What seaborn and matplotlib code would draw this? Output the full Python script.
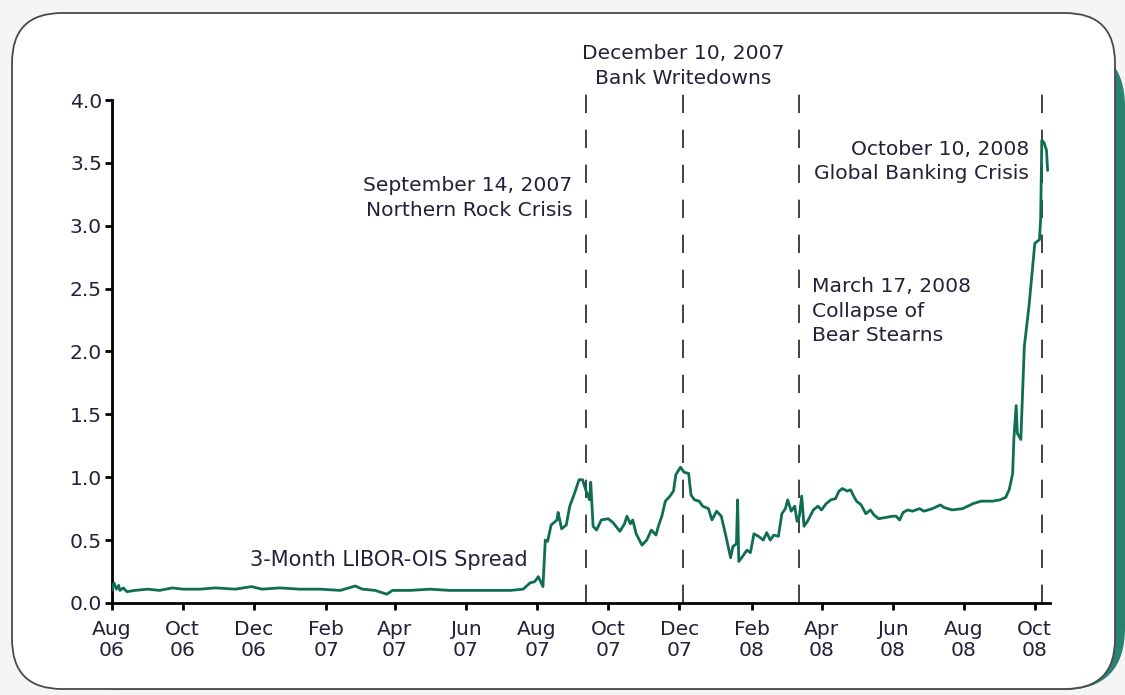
import pandas as pd
import matplotlib
matplotlib.use("Agg")
import matplotlib.pyplot as plt
from matplotlib.patches import FancyBboxPatch
from matplotlib.transforms import IdentityTransform
import seaborn as sns

# 3-month LIBOR-OIS spread (percentage points)
spread_dates = [
    "2006-08-01", "2006-08-03", "2006-08-05", "2006-08-07", "2006-08-08", "2006-08-11",
    "2006-08-14", "2006-08-21", "2006-09-01", "2006-09-11", "2006-09-22", "2006-10-01",
    "2006-10-16", "2006-10-29", "2006-11-15", "2006-11-29", "2006-12-08", "2006-12-23",
    "2007-01-09", "2007-01-27", "2007-02-13", "2007-02-26", "2007-03-04", "2007-03-15",
    "2007-03-25", "2007-03-30", "2007-04-14", "2007-05-01", "2007-05-18", "2007-06-04",
    "2007-06-21", "2007-07-09", "2007-07-20", "2007-07-26", "2007-07-30", "2007-08-02",
    "2007-08-06", "2007-08-08", "2007-08-10", "2007-08-13", "2007-08-18", "2007-08-19",
    "2007-08-22", "2007-08-26", "2007-08-29", "2007-09-02", "2007-09-06", "2007-09-09",
    "2007-09-12", "2007-09-15", "2007-09-16", "2007-09-18", "2007-09-21", "2007-09-25",
    "2007-10-01", "2007-10-05", "2007-10-11", "2007-10-15", "2007-10-17", "2007-10-20",
    "2007-10-22", "2007-10-25", "2007-10-30", "2007-11-03", "2007-11-07", "2007-11-11",
    "2007-11-13", "2007-11-16", "2007-11-19", "2007-11-23", "2007-11-26", "2007-11-28",
    "2007-12-02", "2007-12-05", "2007-12-09", "2007-12-11", "2007-12-14", "2007-12-18",
    "2007-12-21", "2007-12-26", "2007-12-29", "2008-01-02", "2008-01-06", "2008-01-10",
    "2008-01-14", "2008-01-16", "2008-01-19", "2008-01-20", "2008-01-21", "2008-01-25",
    "2008-01-28", "2008-01-31", "2008-02-03", "2008-02-07", "2008-02-11", "2008-02-14",
    "2008-02-17", "2008-02-20", "2008-02-24", "2008-02-27", "2008-03-01", "2008-03-03",
    "2008-03-06", "2008-03-09", "2008-03-11", "2008-03-13", "2008-03-15", "2008-03-17",
    "2008-03-20", "2008-03-25", "2008-03-29", "2008-04-01", "2008-04-05", "2008-04-09",
    "2008-04-13", "2008-04-16", "2008-04-19", "2008-04-23", "2008-04-26", "2008-04-28",
    "2008-05-01", "2008-05-05", "2008-05-09", "2008-05-13", "2008-05-16", "2008-05-20",
    "2008-05-26", "2008-06-01", "2008-06-04", "2008-06-07", "2008-06-10", "2008-06-14",
    "2008-06-18", "2008-06-24", "2008-06-28", "2008-07-05", "2008-07-12", "2008-07-15",
    "2008-07-22", "2008-07-31", "2008-08-09", "2008-08-16", "2008-08-26", "2008-09-01",
    "2008-09-06", "2008-09-09", "2008-09-12", "2008-09-13", "2008-09-15", "2008-09-16",
    "2008-09-19", "2008-09-22", "2008-09-26", "2008-10-01", "2008-10-05", "2008-10-06",
    "2008-10-07", "2008-10-09", "2008-10-11", "2008-10-12",
]
spread_values = [
    0.10, 0.16, 0.11, 0.14, 0.10, 0.12,
    0.09, 0.10, 0.11, 0.10, 0.12, 0.11,
    0.11, 0.12, 0.11, 0.13, 0.11, 0.12,
    0.11, 0.11, 0.10, 0.135, 0.11, 0.10,
    0.07, 0.10, 0.10, 0.11, 0.10, 0.10,
    0.10, 0.10, 0.11, 0.16, 0.17, 0.21,
    0.13, 0.50, 0.49, 0.62, 0.66, 0.72,
    0.59, 0.62, 0.77, 0.87, 0.98, 0.98,
    0.89, 0.82, 0.96, 0.61, 0.58, 0.66,
    0.67, 0.64, 0.57, 0.63, 0.69, 0.63,
    0.66, 0.55, 0.46, 0.50, 0.58, 0.54,
    0.61, 0.69, 0.81, 0.85, 0.89, 1.02,
    1.08, 1.04, 1.03, 0.86, 0.82, 0.81,
    0.77, 0.75, 0.66, 0.73, 0.69, 0.53,
    0.36, 0.45, 0.47, 0.82, 0.33, 0.38,
    0.42, 0.40, 0.55, 0.53, 0.50, 0.56,
    0.50, 0.54, 0.53, 0.71, 0.75, 0.82,
    0.73, 0.77, 0.65, 0.69, 0.85, 0.61,
    0.65, 0.74, 0.77, 0.74, 0.79, 0.82,
    0.83, 0.89, 0.91, 0.89, 0.90, 0.86,
    0.81, 0.78, 0.71, 0.74, 0.70, 0.67,
    0.68, 0.69, 0.69, 0.66, 0.72, 0.74,
    0.73, 0.75, 0.73, 0.75, 0.78, 0.76,
    0.74, 0.75, 0.79, 0.81, 0.81, 0.82,
    0.84, 0.90, 1.03, 1.30, 1.57, 1.35,
    1.30, 2.04, 2.36, 2.86, 2.89, 3.05,
    3.68, 3.66, 3.60, 3.44,
]

# event markers (where the dashed lines sit in the chart)
event_dates = ["2007-09-12", "2007-12-04", "2008-03-13", "2008-10-07"]
event_labels = [
    "September 14, 2007\nNorthern Rock Crisis",
    "December 10, 2007\nBank Writedowns",
    "March 17, 2008\nCollapse of\nBear Stearns",
    "October 10, 2008\nGlobal Banking Crisis",
]

tick_dates = ["2006-08-01", "2006-10-01", "2006-12-01", "2007-02-01", "2007-04-01",
              "2007-06-01", "2007-08-01", "2007-10-01", "2007-12-01", "2008-02-01",
              "2008-04-01", "2008-06-01", "2008-08-01", "2008-10-01"]
tick_labels = ["Aug\n06", "Oct\n06", "Dec\n06", "Feb\n07", "Apr\n07", "Jun\n07", "Aug\n07",
               "Oct\n07", "Dec\n07", "Feb\n08", "Apr\n08", "Jun\n08", "Aug\n08", "Oct\n08"]
y_ticks = [0.0, 0.5, 1.0, 1.5, 2.0, 2.5, 3.0, 3.5, 4.0]

series_name = "3-Month LIBOR-OIS Spread"

df = pd.DataFrame({"date": pd.to_datetime(spread_dates), "spread": spread_values})

sns.set_theme(style="ticks")
plt.rcParams['font.family'] = ['DejaVu Sans']

text_color = "#22223a"
line_color = "#0f6e52"
fs = 14.6

fig = plt.figure(figsize=(11.25, 6.95), dpi=100)
fig.patch.set_facecolor("#f5f5f5")

# rounded frame with teal shadow (pixel coordinates), kept behind the axes
shadow = FancyBboxPatch((60, 5), 1065, 645, boxstyle="round,pad=0,rounding_size=62",
                        transform=IdentityTransform(), facecolor="#2a8371",
                        edgecolor="none", zorder=-3)
frame = FancyBboxPatch((12, 6), 1103, 676, boxstyle="round,pad=0,rounding_size=50",
                       transform=IdentityTransform(), facecolor="white",
                       edgecolor="#4a4a4a", linewidth=1.3, zorder=-2)
fig.patches.extend([shadow, frame])

ax = fig.add_axes([0.0993, 0.1324, 0.8340, 0.7237])
ax.set_facecolor("none")

sns.lineplot(data=df, x="date", y="spread", color=line_color, linewidth=2.0, ax=ax, zorder=3)

ax.set_xlim(pd.Timestamp("2006-08-01"), pd.Timestamp("2008-10-14"))
ax.set_ylim(0, 4.0)

# dashed event lines
for d in event_dates:
    ax.plot([pd.Timestamp(d)] * 2, [0, 4.05], color="#222222", linewidth=1.2,
            dashes=(11, 10), clip_on=False, zorder=2)

# event annotations
ev = [pd.Timestamp(d) for d in event_dates]
ls = 1.36
ax.annotate(event_labels[0], xy=(ev[0], 3.22), xytext=(-10, 0), textcoords="offset points",
            ha="right", va="center", fontsize=fs, color=text_color, linespacing=ls,
            annotation_clip=False)
ax.annotate(event_labels[1], xy=(ev[1], 4.27), xytext=(0, 0), textcoords="offset points",
            ha="center", va="center", fontsize=fs, color=text_color, linespacing=ls,
            annotation_clip=False)
ax.annotate(event_labels[2], xy=(ev[2], 2.32), xytext=(9, 0), textcoords="offset points",
            ha="left", va="center", fontsize=fs, color=text_color, linespacing=ls,
            annotation_clip=False)
ax.annotate(event_labels[3], xy=(ev[3], 3.51), xytext=(-9, 0), textcoords="offset points",
            ha="right", va="center", fontsize=fs, color=text_color, linespacing=ls,
            annotation_clip=False)
ax.text(pd.Timestamp("2007-03-27"), 0.34, series_name, ha="center", va="center",
        fontsize=fs + 0.4, color=text_color)

ax.set_xticks(pd.to_datetime(tick_dates))
ax.set_xticklabels(tick_labels, linespacing=1.15)
ax.set_yticks(y_ticks)
ax.set_yticklabels([f"{v:.1f}" for v in y_ticks])

ax.set_xlabel("")
ax.set_ylabel("")
for side in ["top", "right"]:
    ax.spines[side].set_visible(False)
for side in ["left", "bottom"]:
    ax.spines[side].set_linewidth(2.0)
    ax.spines[side].set_color("black")
ax.tick_params(axis="both", direction="out", length=5, width=2, color="black",
               labelcolor=text_color, labelsize=fs)
ax.tick_params(axis="x", pad=7)
ax.tick_params(axis="y", pad=2)

plt.savefig("out.png", dpi=100, facecolor=fig.get_facecolor())
